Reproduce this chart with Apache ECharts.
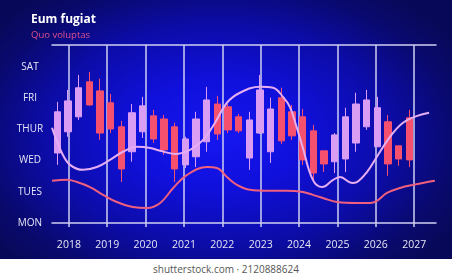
<!DOCTYPE html>
<html>
<head>
<meta charset="utf-8">
<script src="https://cdn.jsdelivr.net/npm/echarts@6/dist/echarts.min.js"></script>
<style>
    html, body { margin: 0; padding: 0; background: #fff; }
    #chart {
        width: 452px;
        height: 259px;
        background: radial-gradient(ellipse 62% 70% at 48% 52%, #1616f2 0%, #1010dc 30%, #0c0ca6 62%, #09096e 85%, #080858 100%);
    }
    #credit {
        width: 452px;
        height: 21px;
        line-height: 21px;
        text-align: center;
        font-family: "Open Sans", sans-serif;
        font-size: 10px;
        color: #555;
    }
</style>
</head>
<body>
<div id="chart"></div>
<div id="credit">shutterstock.com · 2120888624</div>
<script>
// y axis (weekday levels 0..5)
const dayLabels = ['MON', 'TUES', 'WED', 'THUR', 'FRI', 'SAT'];
const dayValues = [0, 1, 2, 3, 4, 5];
// x axis year ticks
const years = [2018, 2019, 2020, 2021, 2022, 2023, 2024, 2025, 2026, 2027];

// candles
const open  = [2.24, 2.92, 3.40, 4.52, 4.23, 3.85, 3.08, 2.28, 2.92, 3.43, 3.33, 3.08, 1.86, 2.12, 2.60, 3.81, 3.72,
               3.40, 2.08, 2.88, 2.28, 4.01, 3.56, 3.40, 2.95, 2.31, 1.96, 2.05, 2.56, 3.08, 2.44, 3.24, 2.47, 3.37];
const close = [3.56, 3.91, 4.33, 3.78, 2.88, 3.01, 1.73, 3.53, 3.75, 2.69, 2.34, 1.73, 2.69, 3.33, 3.94, 2.85, 2.98,
               2.95, 3.30, 4.26, 3.65, 2.63, 2.79, 2.02, 1.60, 1.89, 2.82, 3.40, 3.81, 3.94, 3.69, 1.89, 2.05, 2.02];
const low   = [1.86, 2.76, 3.30, 3.75, 2.66, 2.88, 1.31, 1.96, 2.72, 2.56, 2.18, 1.31, 1.76, 1.79, 2.28, 2.66, 2.88,
               2.88, 1.70, 2.85, 1.92, 2.53, 2.66, 1.86, 1.31, 1.63, 1.60, 1.63, 2.28, 2.98, 2.44, 1.51, 1.83, 1.79];
const high  = [3.88, 4.26, 4.74, 4.84, 4.62, 4.13, 3.27, 3.81, 4.04, 3.62, 3.46, 3.21, 2.76, 3.56, 4.36, 4.07, 3.81,
               3.49, 3.56, 4.74, 4.01, 4.33, 3.78, 3.65, 3.14, 2.31, 2.88, 3.69, 4.17, 4.26, 4.04, 3.46, 2.47, 3.62];
const emptySlots = 2; // room on the right after the last candle

// upper (lavender) curve: [year, level]
const upperLine = [
    [2017.56, 3.05], [2017.82, 2.24], [2018.03, 1.86], [2018.37, 1.70], [2018.73, 1.79], [2019.07, 2.02],
    [2019.41, 2.28], [2019.78, 2.44], [2020.12, 2.40], [2020.38, 2.31], [2020.77, 2.21], [2021.16, 2.34],
    [2021.50, 2.66], [2021.81, 3.21], [2022.12, 3.85], [2022.46, 4.17], [2022.98, 4.36], [2023.32, 4.33],
    [2023.58, 4.04], [2023.76, 3.72], [2023.92, 3.14], [2024.10, 2.40], [2024.36, 1.38], [2024.60, 1.15],
    [2024.89, 1.38], [2025.07, 1.47], [2025.38, 1.28], [2025.51, 1.31], [2025.77, 1.63], [2026.03, 2.12],
    [2026.37, 2.76], [2026.71, 3.21], [2027.08, 3.43], [2027.39, 3.53]
];
// lower (pink) curve: [year, level]
const lowerLine = [
    [2017.56, 1.35], [2017.95, 1.38], [2018.21, 1.31], [2018.55, 1.15], [2018.89, 0.90], [2019.25, 0.67],
    [2019.67, 0.51], [2020.04, 0.48], [2020.38, 0.64], [2020.72, 1.12], [2021.08, 1.54], [2021.60, 1.79],
    [2021.86, 1.76], [2022.12, 1.47], [2022.38, 1.22], [2022.72, 1.06], [2023.17, 1.03], [2023.69, 1.03],
    [2024.10, 0.99], [2024.36, 0.90], [2024.62, 0.80], [2024.99, 0.67], [2025.51, 0.64], [2025.85, 0.64],
    [2026.03, 0.71], [2026.29, 0.96], [2026.63, 1.12], [2026.97, 1.22], [2027.54, 1.35]
];

const lineColor = '#cfcff2';
const font = '"Open Sans", sans-serif';

const chart = echarts.init(document.getElementById('chart'), null, { renderer: 'canvas' });

const candleData = open.map((o, i) => [o, close[i], low[i], high[i]]);
const slots = open.map((_, i) => String(i));
for (let k = 0; k < emptySlots; k++) slots.push('e' + k);

const option = {
    backgroundColor: 'transparent',
    animation: false,
    title: {
        text: 'Eum fugiat',
        subtext: 'Quo voluptas',
        left: 26,
        top: 9,
        itemGap: 4,
        textStyle: { color: '#ffffff', fontSize: 12, fontWeight: 'bold', fontFamily: font },
        subtextStyle: { color: '#e0508c', fontSize: 9.5, fontFamily: font }
    },
    grid: {
        left: 52,
        right: 16,
        top: 45,
        bottom: 32
    },
    xAxis: [
        {
            type: 'value',
            min: 2017.56,
            max: 2027.57,
            position: 'bottom',
            axisLine: { show: true, lineStyle: { color: lineColor, width: 1.5 } },
            axisTick: { show: false, customValues: years },
            axisLabel: {
                customValues: years,
                color: '#e6e6f6',
                fontSize: 10.5,
                fontFamily: font,
                margin: 13,
                formatter: v => String(v)
            },
            splitLine: { show: true, lineStyle: { color: lineColor, width: 1.5 } }
        },
        {
            type: 'category',
            data: slots,
            position: 'top',
            boundaryGap: true,
            axisLine: { show: true, lineStyle: { color: lineColor, width: 1.5 } },
            axisTick: { show: false },
            axisLabel: { show: false },
            splitLine: { show: false }
        }
    ],
    yAxis: {
        type: 'value',
        min: -0.13,
        max: 5.7,
        axisLine: { show: false },
        axisTick: { show: false },
        splitLine: { show: false },
        axisLabel: {
            customValues: dayValues,
            color: '#e6e6f6',
            fontSize: 10,
            fontFamily: font,
            align: 'center',
            margin: 22,
            formatter: v => dayLabels[Math.round(v)]
        }
    },
    series: [
        {
            type: 'candlestick',
            xAxisIndex: 1,
            data: candleData,
            barWidth: 7,
            itemStyle: {
                color: '#d99df3',
                color0: '#f6506f',
                borderColor: '#d99df3',
                borderColor0: '#f6506f',
                borderWidth: 1
            }
        },
        {
            type: 'line',
            xAxisIndex: 0,
            data: lowerLine,
            smooth: 0.4,
            showSymbol: false,
            lineStyle: { color: '#f0607e', width: 2 }
        },
        {
            type: 'line',
            xAxisIndex: 0,
            data: upperLine,
            smooth: 0.4,
            showSymbol: false,
            lineStyle: { color: '#e6aef2', width: 2 }
        }
    ]
};

chart.setOption(option);
</script>
</body>
</html>
